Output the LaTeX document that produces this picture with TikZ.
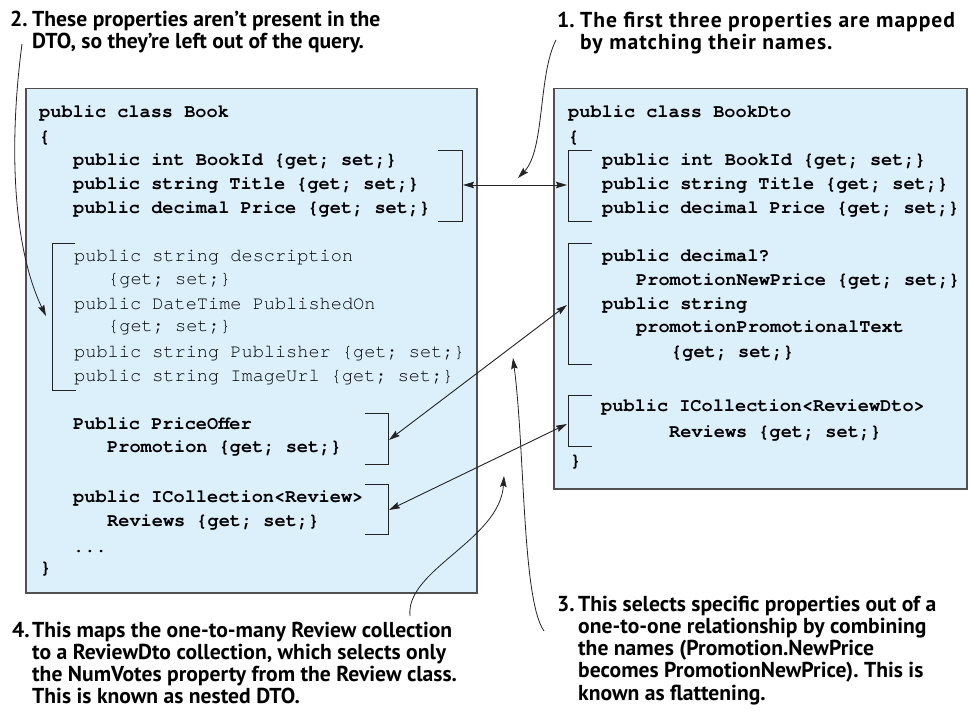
\documentclass[tikz,border=0pt]{standalone}
\usepackage{fontspec}
\setmonofont{TeX Gyre Cursor}
\newfontfamily\annotfont{PT Sans}
\newfontfamily\annotwide[LetterSpace=4.5]{PT Sans}
\usetikzlibrary{arrows.meta}
\definecolor{boxfill}{RGB}{220,240,252}
\definecolor{boxline}{RGB}{80,80,80}
\definecolor{linecol}{RGB}{35,35,35}
\begin{document}
\begin{tikzpicture}[x=1pt,y=-1pt,
  code/.style={anchor=base west,inner sep=0pt,font=\ttfamily\bfseries\fontsize{18.6}{24}\selectfont\frenchspacing},
  plain/.style={anchor=base west,inner sep=0pt,text=black,font=\ttfamily\fontsize{18.6}{24}\selectfont\frenchspacing},
  classbox/.style={draw=boxline,fill=boxfill,line width=1.5pt,inner sep=0pt,anchor=north west},
  brk/.style={draw=linecol,line width=1pt},
  tip/.tip={Stealth[length=11pt,width=6.5pt,inset=1.5pt]},
  conn/.style={draw=linecol,line width=0.9pt,tip-tip},
  call/.style={draw=linecol,line width=0.8pt,-tip},
  note/.style={anchor=base west,inner sep=0pt,font=\annotfont\bfseries\fontsize{21.6}{22}\selectfont\frenchspacing},
  widenote/.style={note,font=\annotwide\bfseries\fontsize{21.6}{22}\selectfont\frenchspacing},
]
\useasboundingbox (0,0) rectangle (970,719);
\fill[white] (0,0) rectangle (970,719);

% boxes
\node[classbox,minimum width=451pt,minimum height=504pt] (bookbox) at (25,88) {};
\node[classbox,minimum width=413pt,minimum height=400pt] (dtobox) at (553,88) {};

% Book class
\node[code] (b1) at (39,118) {public class Book};
\node[code] (b2) at (39,143) {\{};
\node[code] (b3) at (73,166) {public int BookId \{get; set;\}};
\node[code] (b4) at (73,190) {public string Title \{get; set;\}};
\node[code] (b5) at (73,214) {public decimal Price \{get; set;\}};
\node[plain] (b6) at (74,262) {public string description};
\node[plain] (b7) at (108,285) {\{get; set;\}};
\node[plain] (b8) at (74,310) {public DateTime PublishedOn};
\node[plain] (b9) at (108,332) {\{get; set;\}};
\node[plain] (b10) at (74,358) {public string Publisher \{get; set;\}};
\node[plain] (b11) at (74,382) {public string ImageUrl \{get; set;\}};
\node[code] (b12) at (73,430) {Public PriceOffer};
\node[code] (b13) at (107,453) {Promotion \{get; set;\}};
\node[code] (b14) at (73,502) {public ICollection<Review>};
\node[code] (b15) at (107,526) {Reviews \{get; set;\}};
\node[code] (b16) at (73,552) {...};
\node[code] (b17) at (40,573) {\}};

% BookDto class
\node[code] (d1) at (568,118) {public class BookDto};
\node[code] (d2) at (568,143) {\{};
\node[code] (d3) at (602,166) {public int BookId \{get; set;\}};
\node[code] (d4) at (602,190) {public string Title \{get; set;\}};
\node[code] (d5) at (602,214) {public decimal Price \{get; set;\}};
\node[code] (d6) at (602,262) {public decimal?};
\node[code] (d7) at (636,286) {PromotionNewPrice \{get; set;\}};
\node[code] (d8) at (602,310) {public string};
\node[code] (d9) at (636,333) {promotionPromotionalText};
\node[code] (d10) at (671,358) {\{get; set;\}};
\node[code] (d11) at (601,412) {public ICollection<ReviewDto>};
\node[code] (d12) at (669,438) {Reviews \{get; set;\}};
\node[code] (d13) at (570,466) {\}};

% brackets
\draw[brk] (438,151) -- (462,151) -- (462,222) -- (438,222);
\draw[brk] (75,244) -- (52,244) -- (52,391) -- (76,391);
\draw[brk] (365,414) -- (388,414) -- (388,464) -- (365,464);
\draw[brk] (365,484) -- (388,484) -- (388,534) -- (365,534);
\draw[brk] (592,151) -- (568,151) -- (568,222) -- (592,222);
\draw[brk] (592,244) -- (568,244) -- (568,365) -- (592,365);
\draw[brk] (592,396) -- (568,396) -- (568,447) -- (592,447);
\coordinate (k1) at (463,185);
\coordinate (k2) at (46,316);
\coordinate (k3) at (389,440);
\coordinate (k4) at (389,510);
\coordinate (kA) at (567,185);
\coordinate (kB) at (567,305);
\coordinate (kC) at (567,424);

% connectors
\draw[conn] (k1) -- (kA);
\draw[conn] (kB) -- (k3);
\draw[conn] (kC) -- (k4);

% callouts
\coordinate (c2s) at (22,44);
\coordinate (c1s) at (556,40);
\coordinate (c1e) at (518,178);
\coordinate (c3s) at (544,631);
\coordinate (c3e) at (513,358);
\coordinate (c4s) at (410,616);
\coordinate (c4e) at (504,476);
\draw[call] (c2s) .. controls (8,150) and (14,250) .. (k2);
\draw[call] (c1s) .. controls (538,75) and (545,150) .. (c1e);
\draw[call] (c3s) .. controls (522,600) and (525,450) .. (c3e);
\draw[call] (c4s) .. controls (405,570) and (500,540) .. (c4e);

% notes
\node[note] (n2n) at (10,27) {2.};
\node[note] (n2a) at (32,27) {These properties aren’t present in the};
\node[note] (n2b) at (32,49) {DTO, so they’re left out of the query.};
\node[note] (n1n) at (557,28) {1.};
\node[widenote] (n1a) at (580,28) {The first three properties are mapped};
\node[widenote] (n1b) at (580,50) {by matching their names.};
\node[note] (n4n) at (12,637) {4.};
\node[note] (n4a) at (32,637) {This maps the one-to-many Review collection};
\node[note] (n4b) at (32,659) {to a ReviewDto collection, which selects only};
\node[note] (n4c) at (32,681) {the NumVotes property from the Review class.};
\node[note] (n4d) at (32,703) {This is known as nested DTO.};
\node[note] (n3n) at (557,611) {3.};
\node[note] (n3a) at (578,611) {This selects specific properties out of a};
\node[note] (n3b) at (578,633) {one-to-one relationship by combining};
\node[note] (n3c) at (578,655) {the names (Promotion.NewPrice};
\node[note] (n3d) at (578,677) {becomes PromotionNewPrice). This is};
\node[note] (n3e) at (578,700) {known as flattening.};
\end{tikzpicture}
\end{document}
